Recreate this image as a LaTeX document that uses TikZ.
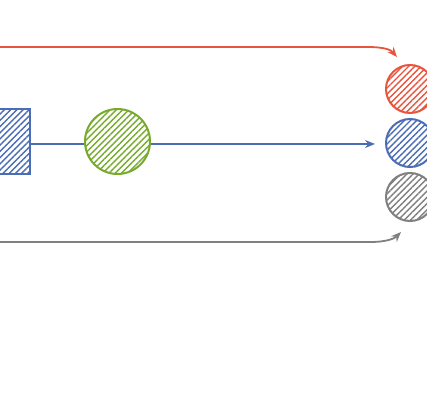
\documentclass[tikz,border=0pt]{standalone}
\usepackage{xcolor}
\usepackage{tikz}
\usetikzlibrary{arrows.meta, positioning, patterns.meta}
\definecolor{cred}{HTML}{E8553F}
\definecolor{cblue}{HTML}{4A6DB5}
\definecolor{cgreen}{HTML}{77AA2E}
\definecolor{cgray}{HTML}{808080}
\tikzset{
  hatch/.style={pattern={Lines[angle=45, distance=4.4pt, line width=1.4pt]}, pattern color=#1, draw=#1, line width=2pt},
  ball/.style ={circle, inner sep=0pt, minimum size=#1},
  box/.style  ={rectangle, inner sep=0pt, minimum size=65pt},
  fl/.style   ={-{Stealth[length=10pt, width=8pt]}, line width=1.8pt},
}

\begin{document}
\begin{tikzpicture}[x=1pt, y=-1pt]
  \useasboundingbox (0,0) rectangle (427,419);
  \clip (0,0) rectangle (427,419);
  \fill[white] (0,0) rectangle (427,419);
  % sources
  \node[box, hatch=cblue] (src) at (-2.5,141.5) {};
  \node[ball=65pt, hatch=cgreen] (grn) at (117.5,141.5) {};
  % targets
  \node[ball=48pt, hatch=cred]  (tr) at (410,89) {};
  \node[ball=48pt, hatch=cblue] (tb) at (410,143) {};
  \node[ball=48pt, hatch=cgray] (tg) at (410,197) {};
  \coordinate (rs) at (-40,47);
  \coordinate (rt) at (397,57);
  \coordinate (gs) at (-40,242);
  \coordinate (gt) at (401,232);
  % flows
  \draw[cblue, line width=1.8pt] (src.east |- 0,144) -- (grn.west |- 0,144);
  \draw[fl, cblue, shorten >=10pt] (grn.east |- 0,144) -- (tb.west |- 0,144);
  \draw[fl, cred] (rs) -- (367,47) .. controls (385,47) and (391,50) .. (rt);
  \draw[fl, cgray] (gs) -- (370,242) .. controls (388,242) and (395,238) .. (gt);
\end{tikzpicture}
\end{document}
